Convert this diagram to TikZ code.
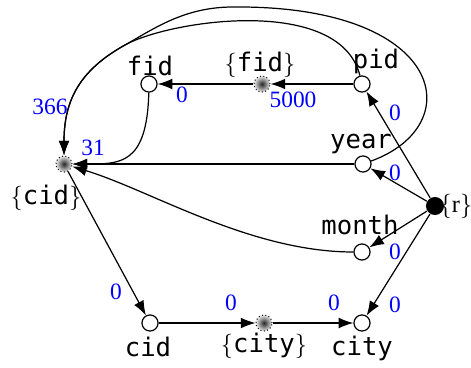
\documentclass[tikz,border=0pt]{standalone}
\usepackage{fontspec}
\setmainfont{Liberation Serif}
\setmonofont{DejaVu Sans Mono}[Scale=1.05]
\usetikzlibrary{arrows.meta}

\tikzset{
  attr/.style={circle,draw,fill=white,line width=0.5pt,inner sep=0pt,minimum size=6.6pt},
  setn/.style={circle,draw,densely dotted,line width=0.4pt,inner sep=0pt,minimum size=6.6pt,
    shading=radial,inner color=black!85,outer color=black!10},
  rootn/.style={circle,fill=black,inner sep=0pt,minimum size=7.4pt},
  lab/.style={inner sep=0pt},
  num/.style={blue,inner sep=0pt,font=\fontsize{9.6}{11}\selectfont},
  conn/.style={-{Latex[length=6pt,width=4.4pt]},line width=0.5pt}
}

\begin{document}
\begin{tikzpicture}[x=0.41pt,y=-0.41pt]
		\useasboundingbox (0,0) rectangle (471,367);
		% nodes
		\node[attr] (fid) at (149,84) {};
		\node[setn] (fidset) at (262,84) {};
		\node[attr] (pid) at (362,84) {};
		\node[attr] (year) at (363,164) {};
		\node[setn] (cidset) at (64,164) {};
		\node[rootn] (r) at (435,206) {};
		\node[attr] (month) at (362,252) {};
		\node[attr] (cid) at (150,323) {};
		\node[setn] (cityset) at (264,323) {};
		\node[attr] (city) at (362,323) {};
		\coordinate (m) at (125,45);
		\coordinate (top) at (233,7);
		% names
		\node[lab] (fidT) at (150,66) {\texttt{fid}};
		\node[lab] (fidsetT) at (260,64.5) {$\{$\texttt{fid}$\}$};
		\node[lab] (pidT) at (376,61.5) {\texttt{pid}};
		\node[lab] (yearT) at (361,143.5) {\texttt{year}};
		\node[lab] (cidsetT) at (46,197.5) {$\{$\texttt{cid}$\}$};
		\node[lab] (rT) at (456,206) {$\{\mathrm{r}\}$};
		\node[lab] (monthT) at (360,225) {\texttt{month}};
		\node[lab] (cidT) at (148,346.5) {\texttt{cid}};
		\node[lab] (citysetT) at (264,346) {$\{$\texttt{city}$\}$};
		\node[lab] (cityT) at (362,348) {\texttt{city}};
		% edges
		\draw[conn] (pid) -- (fidset);
		\draw[conn] (fidset) -- (fid);
		\draw[conn] (fid) .. controls (147,165) and (120,164) .. (cidset);
		\draw[conn] (year) -- (cidset);
		\draw[conn] (month) .. controls (250,252) and (150,190) .. (cidset);
		\draw[conn] (pid) .. controls (340,-5) and (170,20) .. (m) .. controls (80,70) and (64,100) .. (cidset);
		\draw[conn] (year) .. controls (470,125) and (445,5) .. (top) .. controls (185,7) and (155,28) .. (m) .. controls (80,70) and (64,100) .. (cidset);
		\draw[conn] (r) -- (pid);
		\draw[conn] (r) -- (year);
		\draw[conn] (r) -- (month);
		\draw[conn] (r) -- (city);
		\draw[conn] (cidset) -- (cid);
		\draw[conn] (cid) -- (cityset);
		\draw[conn] (cityset) -- (city);
		% weights
		\node[num] (wpid) at (395,113) {0};
		\node[num] (wyear) at (395,173) {0};
		\node[num] (wmonth) at (395,252) {0};
		\node[num] (wcityr) at (395,305) {0};
		\node[num] (wcid) at (116,292) {0};
		\node[num] (wcityset) at (231,303) {0};
		\node[num] (wcity) at (334,303) {0};
		\node[num] (wfidset) at (293,100) {5000};
		\node[num] (wfid) at (182,95) {0};
		\node[num] (wtop) at (50,107) {366};
		\node[num] (wfidcid) at (93,148) {31};
	\end{tikzpicture}
\end{document}
